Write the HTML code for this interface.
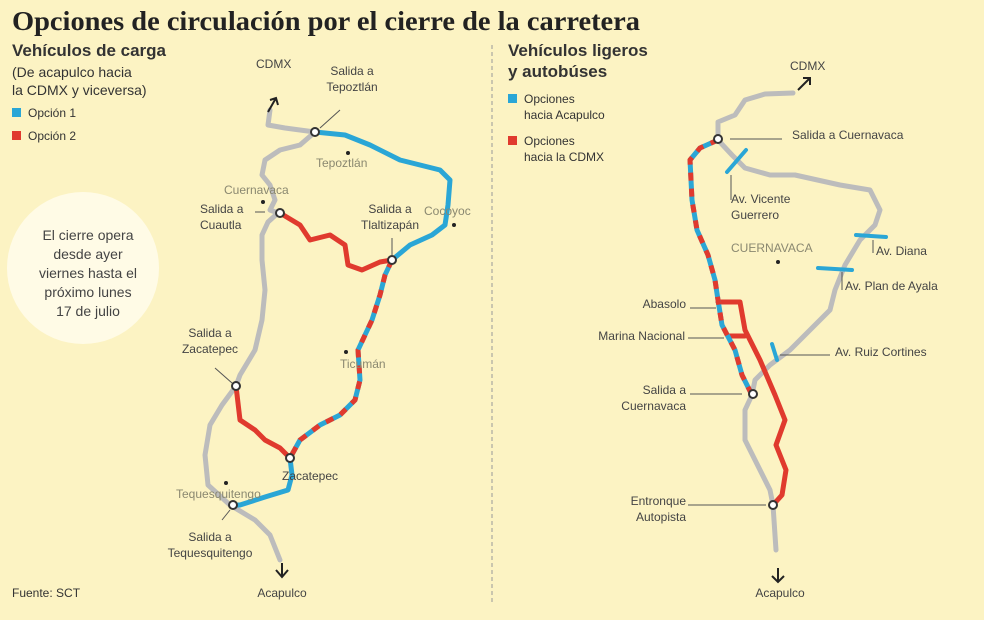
<!DOCTYPE html>
<html><head><meta charset="utf-8"><style>
html,body{margin:0;padding:0;background:#fcf3c3;}
svg{display:block;font-family:"Liberation Sans",sans-serif;}
</style></head><body>
<svg width="984" height="620" viewBox="0 0 984 620" xmlns="http://www.w3.org/2000/svg">
<rect width="984" height="620" fill="#fcf3c3"/>
<text x="12" y="30" font-family="Liberation Serif,serif" font-weight="bold" font-size="27" fill="#222" textLength="628" lengthAdjust="spacingAndGlyphs">Opciones de circulación por el cierre de la carretera</text>
<line x1="492" y1="45" x2="492" y2="605" stroke="#999" stroke-width="1" stroke-dasharray="4,3"/>
<text x="12" y="56" font-weight="bold" font-size="17" fill="#333">Vehículos de carga</text>
<text x="12" y="77" font-size="14" fill="#333">(De acapulco hacia</text>
<text x="12" y="95" font-size="14" fill="#333">la CDMX y viceversa)</text>
<rect x="12" y="108" width="9" height="9" fill="#2aa6d6"/><text x="28" y="117" font-size="12" fill="#333">Opción 1</text>
<rect x="12" y="131" width="9" height="9" fill="#e03a2e"/><text x="28" y="140" font-size="12" fill="#333">Opción 2</text>
<circle cx="83" cy="268" r="76" fill="#fffbe6"/>
<g font-size="14" fill="#444" text-anchor="middle">
<text x="88" y="240">El cierre opera</text><text x="88" y="259">desde ayer</text><text x="88" y="278">viernes hasta el</text><text x="88" y="297">próximo lunes</text><text x="88" y="316">17 de julio</text></g>
<text x="12" y="597" font-size="12" fill="#333">Fuente: SCT</text>
<g fill="none" stroke-linecap="round" stroke-linejoin="round" stroke-width="5">
<path d="M270,110 L268,125 L285,128 L315,132 L300,145 L280,150 L265,160 L262,175 L270,185 L275,200 L270,210 L278,213 L268,222 L262,235 L262,260 L265,290 L262,320 L255,350 L240,375 L236,386 L222,405 L210,425 L205,455 L208,485 L230,505 L255,520 L270,535 L280,560" stroke="#bcbcbc"/>
<path d="M315,132 L345,135 L370,145 L400,160 L440,170 L450,180 L448,205 L445,225 L432,235 L410,245 L392,260" stroke="#2aa6d6"/>
<path d="M290,458 L292,475 L288,490 L265,497 L240,505 L233,505" stroke="#2aa6d6"/>
<path d="M280,213 L300,225 L310,240 L330,235 L345,245 L348,265 L362,270 L380,262 L392,260" stroke="#e03a2e"/>
<path d="M236,386 L240,420 L255,430 L265,440 L280,448 L290,458" stroke="#e03a2e"/>
<path d="M392,260 L385,275 L380,295 L372,320 L365,335 L358,350 L360,380 L355,400 L340,415 L320,425 L300,440 L290,458" stroke="#2aa6d6"/>
<path d="M392,260 L385,275 L380,295 L372,320 L365,335 L358,350 L360,380 L355,400 L340,415 L320,425 L300,440 L290,458" stroke="#e03a2e" stroke-dasharray="8,8" stroke-linecap="butt"/>
</g>
<g fill="#fff" stroke="#333" stroke-width="2">
<circle cx="315" cy="132" r="4"/><circle cx="280" cy="213" r="4"/><circle cx="392" cy="260" r="4"/><circle cx="236" cy="386" r="4"/><circle cx="290" cy="458" r="4"/><circle cx="233" cy="505" r="4"/></g>
<g stroke="#555" stroke-width="1"><line x1="320" y1="128" x2="340" y2="110"/><line x1="392" y1="255" x2="392" y2="238"/><line x1="232" y1="383" x2="215" y2="368"/><line x1="230" y1="510" x2="222" y2="520"/><line x1="255" y1="212" x2="265" y2="212"/></g>
<g stroke="#222" stroke-width="2" fill="none"><path d="M268,112 L276,98 M270,100 L276,98 L278,105"/><path d="M282,563 L282,577 M276,570 L282,577 L288,570"/></g>
<g fill="#222"><circle cx="348" cy="153" r="2"/><circle cx="263" cy="202" r="2"/><circle cx="454" cy="225" r="2"/><circle cx="346" cy="352" r="2"/><circle cx="226" cy="483" r="2"/></g>
<g font-size="12" fill="#444">
<text x="256" y="68">CDMX</text>
<text x="352" y="75" text-anchor="middle">Salida a</text><text x="352" y="91" text-anchor="middle">Tepoztlán</text>
<text x="200" y="213">Salida a</text><text x="200" y="229">Cuautla</text>
<text x="390" y="213" text-anchor="middle">Salida a</text><text x="390" y="229" text-anchor="middle">Tlaltizapán</text>
<text x="210" y="337" text-anchor="middle">Salida a</text><text x="210" y="353" text-anchor="middle">Zacatepec</text>
<text x="282" y="480">Zacatepec</text>
<text x="210" y="541" text-anchor="middle">Salida a</text><text x="210" y="557" text-anchor="middle">Tequesquitengo</text>
<text x="282" y="597" text-anchor="middle">Acapulco</text>
</g>
<g font-size="12" fill="#8a8870">
<text x="316" y="167">Tepoztlán</text><text x="224" y="194">Cuernavaca</text><text x="424" y="215">Cocoyoc</text><text x="340" y="368">Ticumán</text><text x="176" y="498">Tequesquitengo</text>
</g>
<text x="508" y="56" font-weight="bold" font-size="17" fill="#333">Vehículos ligeros</text>
<text x="508" y="77" font-weight="bold" font-size="17" fill="#333">y autobúses</text>
<rect x="508" y="94" width="9" height="9" fill="#2aa6d6"/><text x="524" y="103" font-size="12" fill="#333">Opciones</text><text x="524" y="119" font-size="12" fill="#333">hacia Acapulco</text>
<rect x="508" y="136" width="9" height="9" fill="#e03a2e"/><text x="524" y="145" font-size="12" fill="#333">Opciones</text><text x="524" y="161" font-size="12" fill="#333">hacia la CDMX</text>
<g fill="none" stroke-linecap="round" stroke-linejoin="round" stroke-width="5">
<path d="M793,93 L765,94 L745,100 L735,115 L718,122 L718,140 L732,155 L745,168 L770,175 L795,175 L840,185 L870,190 L880,210 L875,225 L860,240 L845,265 L835,290 L830,310 L810,330 L790,350 L770,365 L755,380 L752,395 L745,410 L745,440 L755,460 L770,490 L773,505 L776,550" stroke="#bcbcbc"/>
<path d="M718,302 L740,302 L745,330 L760,360 L775,395 L785,420 L776,445 L786,470 L782,495 L773,505" stroke="#e03a2e"/>
<path d="M728,336 L745,336" stroke="#e03a2e"/>
<path d="M718,140 L700,148 L690,160 L692,200 L697,230 L708,255 L715,280 L718,300 L722,325 L735,350 L742,375 L752,395" stroke="#2aa6d6"/>
<path d="M718,140 L700,148 L690,160 L692,200 L697,230 L708,255 L715,280 L718,300 L722,325 L735,350 L742,375 L752,395" stroke="#e03a2e" stroke-dasharray="8,8" stroke-linecap="butt"/>
<path d="M727,172 L746,150 M856,235 L886,237 M818,268 L852,270 M772,344 L777,360" stroke="#2aa6d6" stroke-width="4"/>
</g>
<g fill="#fff" stroke="#333" stroke-width="2"><circle cx="718" cy="139" r="4"/><circle cx="753" cy="394" r="4"/><circle cx="773" cy="505" r="4"/></g>
<g stroke="#555" stroke-width="1"><line x1="730" y1="139" x2="782" y2="139"/><line x1="731" y1="175" x2="731" y2="200"/><line x1="873" y1="240" x2="873" y2="253"/><line x1="842" y1="272" x2="842" y2="290"/><line x1="780" y1="355" x2="830" y2="355"/><line x1="690" y1="308" x2="716" y2="308"/><line x1="688" y1="338" x2="724" y2="338"/><line x1="690" y1="394" x2="742" y2="394"/><line x1="688" y1="505" x2="766" y2="505"/></g>
<g stroke="#222" stroke-width="2" fill="none"><path d="M798,90 L810,78 M803,78 L810,78 L810,85"/><path d="M778,568 L778,582 M772,576 L778,582 L784,576"/></g>
<circle cx="778" cy="262" r="2" fill="#222"/>
<g font-size="12" fill="#444">
<text x="790" y="70">CDMX</text>
<text x="792" y="139">Salida a Cuernavaca</text>
<text x="731" y="203">Av. Vicente</text><text x="731" y="219">Guerrero</text>
<text x="876" y="255">Av. Diana</text>
<text x="845" y="290">Av. Plan de Ayala</text>
<text x="835" y="356">Av. Ruiz Cortines</text>
<text x="686" y="308" text-anchor="end">Abasolo</text>
<text x="685" y="340" text-anchor="end">Marina Nacional</text>
<text x="686" y="394" text-anchor="end">Salida a</text><text x="686" y="410" text-anchor="end">Cuernavaca</text>
<text x="686" y="505" text-anchor="end">Entronque</text><text x="686" y="521" text-anchor="end">Autopista</text>
<text x="780" y="597" text-anchor="middle">Acapulco</text>
</g>
<text x="731" y="252" font-size="12" fill="#8a8870">CUERNAVACA</text>
</svg>
</body></html>
